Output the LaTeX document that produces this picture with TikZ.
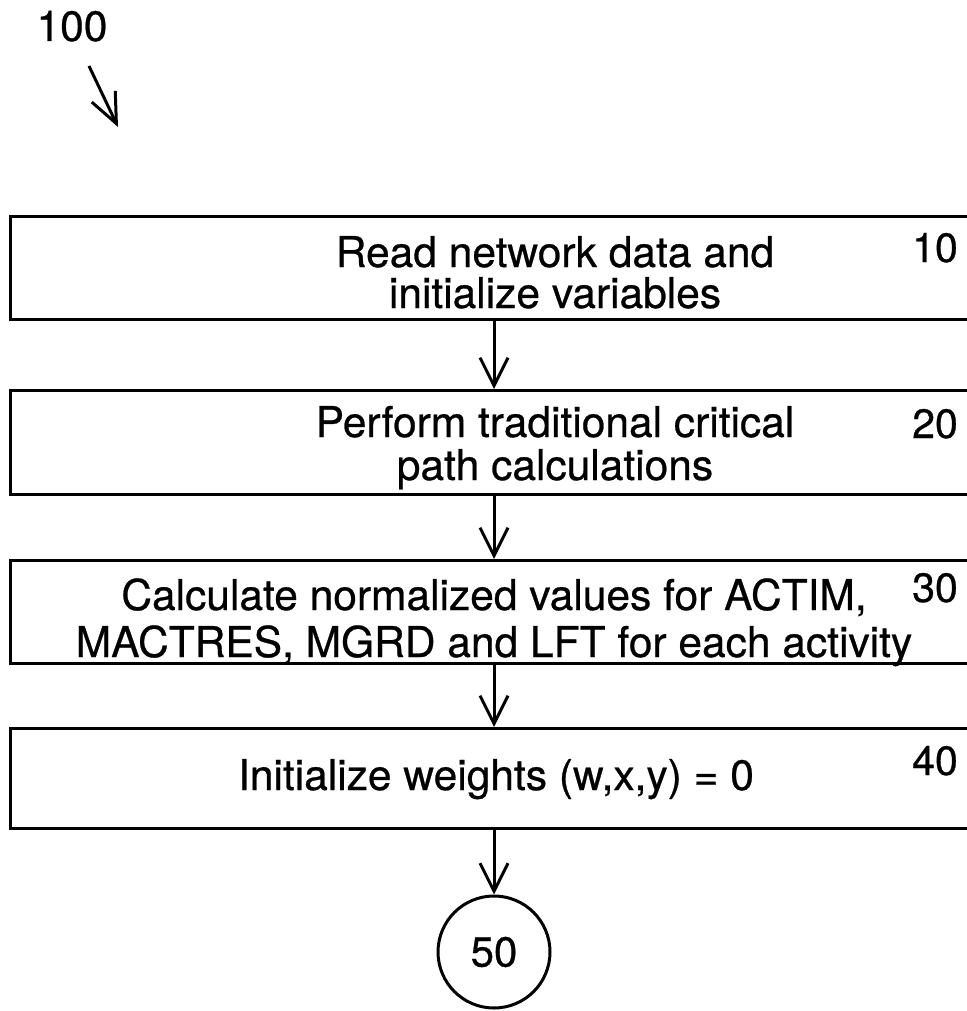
\documentclass[tikz,border=0pt]{standalone}
\usepackage{fontspec}
\setmainfont[FakeBold=0.6]{TeX Gyre Heros}
\usetikzlibrary{arrows.meta}
\tikzset{
  box/.style={draw, line width=3pt, rectangle, anchor=north west, minimum width=966pt, minimum height=103pt, inner sep=0pt},
  txt/.style={font=\fontsize{42.5}{44}\selectfont, align=center, inner sep=0pt, anchor=base},
  num/.style={font=\fontsize{41}{44}\selectfont, inner sep=0pt, anchor=base east},
  arr/.style={line width=3pt, -{Straight Barb[length=28pt,width=28pt,line width=3pt]}},
  endcirc/.style={draw, circle, line width=3pt, minimum size=112pt, inner sep=0pt, font=\fontsize{42}{44}\selectfont}
}
\begin{document}
\begin{tikzpicture}[x=1pt,y=-1pt]
\useasboundingbox (0,0) rectangle (966,1011);
\node[txt] (lbl) at (72,41) {100};
\coordinate (lblstart) at (89,66);
\coordinate (lblend) at (118,127);
\draw[line width=3pt, -{Straight Barb[length=30pt,width=26pt,line width=3pt]}] (lblstart) -- (lblend);

\node[box, minimum height=103pt] (b1) at (9,215) {};
\node[box, minimum height=104pt] (b2) at (9,389) {};
\node[box, minimum height=103pt] (b3) at (9,559) {};
\node[box, minimum height=100pt] (b4) at (9,727) {};

\node[txt] (t1) at (555,308) {Read network data and\\[-3pt]initialize variables};
\node[txt] (t2) at (555,480) {Perform traditional critical\\[-1pt]path calculations};
\node[txt] (t3) at (494,657) {Calculate normalized values for ACTIM,\\[3pt]MACTRES, MGRD and LFT for each activity};
\node[txt] (t4) at (496,790) {Initialize weights (w,x,y) = 0};

\node[num] (n1) at (958,262) {10};
\node[num] (n2) at (958,438) {20};
\node[num] (n3) at (958,602) {30};
\node[num] (n4) at (958,775) {40};

\node[endcirc] (c50) at (494,952) {50};

\draw[arr] (b1.south -| c50) -- (b2.north -| c50);
\draw[arr] (b2.south -| c50) -- (b3.north -| c50);
\draw[arr] (b3.south -| c50) -- (b4.north -| c50);
\draw[arr] (b4.south -| c50) -- (c50.north);
\end{tikzpicture}
\end{document}
